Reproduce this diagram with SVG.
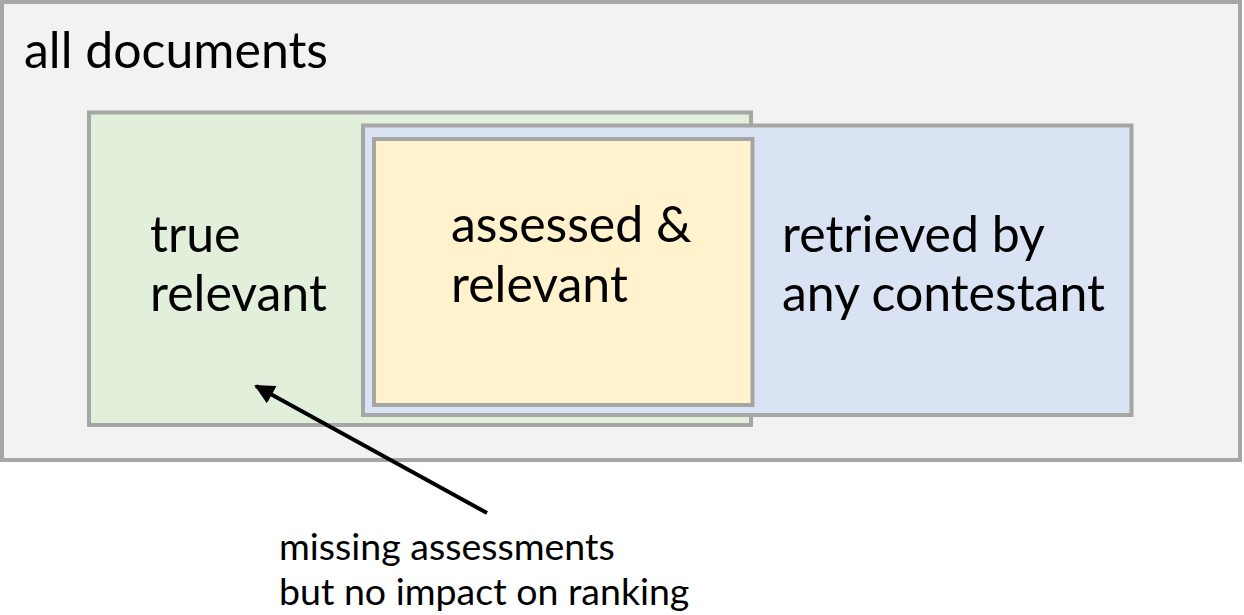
<svg xmlns="http://www.w3.org/2000/svg" width="1244" height="615" viewBox="0 0 1244 615">
<style>
.box{stroke:#a6a6a6;stroke-width:4}
.t{font-family:Lato,"Open Sans","Liberation Sans",sans-serif;fill:#000}
.big{font-size:50px}
.small{font-size:37.5px}
</style>
<defs>
<marker id="ah" viewBox="0 0 10 10" refX="9" refY="5" markerWidth="5" markerHeight="5" orient="auto" markerUnits="strokeWidth">
<path d="M0,0 L10,5 L0,10 z" fill="#000"/>
</marker>
</defs>
<rect width="1244" height="615" fill="#fff"/>
<g id="all">
<rect class="box" x="2" y="2" width="1238" height="458" fill="#f2f2f2" stroke-width="3"/>
<text class="t big" x="24" y="68">all documents</text>
</g>
<g id="true-relevant">
<rect class="box" x="89" y="112.5" width="662" height="312.5" fill="#e2efda"/>
<text class="t big" x="150" y="252">true</text>
<text class="t big" x="150" y="311">relevant</text>
</g>
<g id="retrieved">
<rect class="box" x="363" y="125.5" width="768.5" height="289.5" fill="#dae3f3"/>
<text class="t big" x="782" y="252">retrieved by</text>
<text class="t big" x="782" y="311">any contestant</text>
</g>
<g id="assessed">
<rect class="box" x="374" y="139" width="378.5" height="266" fill="#fff2cc"/>
<text class="t big" x="451" y="242">assessed &amp;</text>
<text class="t big" x="451" y="302">relevant</text>
</g>
<g id="connectors">
<line x1="487" y1="513" x2="256" y2="386" stroke="#000" stroke-width="4" marker-end="url(#ah)"/>
</g>
<g id="note">
<text class="t small" x="279" y="560">missing assessments</text>
<text class="t small" x="279" y="605">but no impact on ranking</text>
</g>
</svg>
